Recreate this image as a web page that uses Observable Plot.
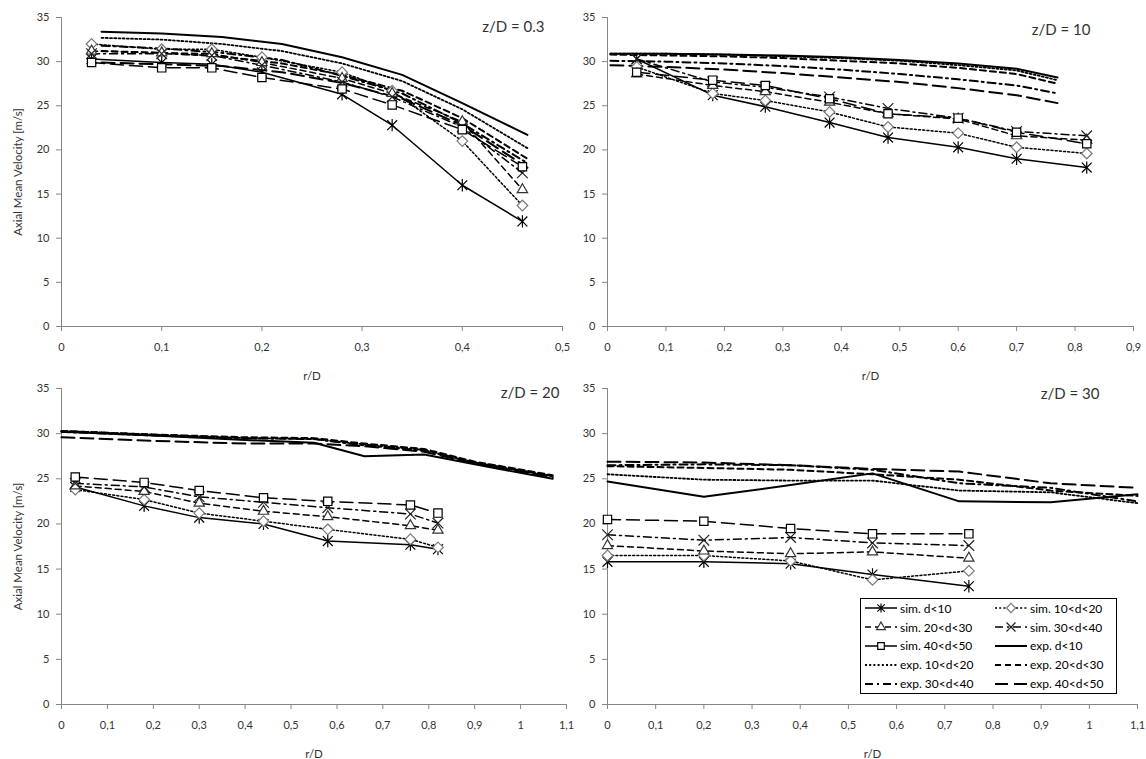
<!DOCTYPE html>
<html>
<head>
<meta charset="utf-8">
<script src="https://cdn.jsdelivr.net/npm/d3@7"></script>
<script src="https://cdn.jsdelivr.net/npm/@observablehq/plot@0.6"></script>
<style>
  body { margin: 0; background: #fff; }
  #wrap { position: relative; width: 1146px; height: 759px; font-family: Lato, "Open Sans", sans-serif; overflow: hidden; }
  #legend { position: absolute; left: 860px; top: 598px; width: 257px; height: 96px; box-sizing: border-box;
            border: 1px solid #000; background: #fff; font-size: 12px; color: #000;
            display: grid; grid-template-columns: 130px 125px; grid-auto-rows: 18.8px; padding: 0 0 0 3px; }
  #legend .item { display: flex; align-items: center; white-space: nowrap; }
  #legend svg { margin-right: 2px; flex: none; }
</style>
</head>
<body>
<div id="wrap"></div>
<script>
// ---------------- data ----------------
const simNames = ["sim. d<10", "sim. 10<d<20", "sim. 20<d<30", "sim. 30<d<40", "sim. 40<d<50"];
const expNames = ["exp. d<10", "exp. 10<d<20", "exp. 20<d<30", "exp. 30<d<40", "exp. 40<d<50"];
const yTicks = [0, 5, 10, 15, 20, 25, 30, 35];

// z/D = 0.3
const xTicksZ03 = [0, 0.1, 0.2, 0.3, 0.4, 0.5];
const simRZ03 = [0.03, 0.10, 0.15, 0.20, 0.28, 0.33, 0.40, 0.46];
const simZ03 = [
  [30.3, 29.9, 29.7, 28.8, 26.3, 22.8, 16.0, 11.9],
  [32.0, 31.4, 31.4, 30.5, 28.8, 26.7, 21.0, 13.7],
  [31.2, 31.0, 30.9, 29.9, 28.1, 26.4, 23.2, 15.5],
  [30.9, 30.9, 30.7, 29.6, 27.7, 26.0, 22.6, 17.4],
  [29.9, 29.3, 29.3, 28.2, 26.9, 25.1, 22.3, 18.1]
];
const expRZ03 = [0.04, 0.10, 0.16, 0.22, 0.28, 0.34, 0.40, 0.465];
const expZ03 = [
  [33.4, 33.2, 32.8, 32.0, 30.5, 28.5, 25.3, 21.7],
  [32.7, 32.5, 32.0, 31.2, 29.8, 27.8, 24.6, 20.2],
  [31.2, 31.0, 30.6, 29.8, 28.5, 26.7, 23.6, 19.0],
  [31.8, 31.5, 31.0, 30.2, 28.4, 26.4, 23.0, 18.5],
  [29.9, 29.7, 29.5, 28.8, 27.6, 25.8, 22.8, 18.0]
];

// z/D = 10
const xTicksZ10 = [0, 0.1, 0.2, 0.3, 0.4, 0.5, 0.6, 0.7, 0.8, 0.9];
const simRZ10 = [0.05, 0.18, 0.27, 0.38, 0.48, 0.60, 0.70, 0.82];
const simZ10 = [
  [30.3, 26.2, 24.9, 23.1, 21.4, 20.3, 19.0, 18.0],
  [29.4, 26.4, 25.6, 24.3, 22.6, 21.9, 20.3, 19.6],
  [28.6, 27.3, 26.6, 25.4, 24.1, 23.5, 21.6, 21.1],
  [30.3, 27.7, 27.1, 26.0, 24.7, 23.6, 22.1, 21.6],
  [28.8, 27.9, 27.3, 25.8, 24.1, 23.6, 22.0, 20.7]
];
const expRZ10 = [0.005, 0.1, 0.2, 0.3, 0.4, 0.5, 0.6, 0.7, 0.77];
const expZ10 = [
  [30.9, 30.9, 30.8, 30.7, 30.5, 30.2, 29.8, 29.2, 28.2],
  [30.9, 30.9, 30.8, 30.6, 30.4, 30.1, 29.6, 29.0, 27.9],
  [30.8, 30.7, 30.6, 30.4, 30.1, 29.8, 29.3, 28.6, 27.5],
  [30.1, 30.0, 29.8, 29.5, 29.1, 28.6, 28.0, 27.3, 26.4],
  [29.6, 29.4, 29.1, 28.7, 28.2, 27.7, 27.0, 26.2, 25.3]
];

// z/D = 20
const xTicksZ20 = [0, 0.1, 0.2, 0.3, 0.4, 0.5, 0.6, 0.7, 0.8, 0.9, 1, 1.1];
const simRZ20 = [0.03, 0.18, 0.30, 0.44, 0.58, 0.76, 0.82];
const simZ20 = [
  [24.1, 22.0, 20.7, 20.0, 18.1, 17.7, 17.2],
  [23.8, 22.7, 21.2, 20.3, 19.4, 18.3, 17.4],
  [24.2, 23.6, 22.3, 21.4, 20.8, 19.8, 19.3],
  [24.5, 24.1, 23.0, 22.4, 21.8, 21.1, 20.1],
  [25.2, 24.6, 23.7, 22.9, 22.5, 22.1, 21.2]
];
const expRZ20 = [0, 0.2, 0.4, 0.55, 0.66, 0.79, 0.9, 1.07];
const expZ20 = [
  [30.2, 29.8, 29.3, 29.0, 27.5, 27.7, 26.6, 25.0],
  [30.3, 29.9, 29.5, 29.4, 28.8, 28.2, 26.8, 25.3],
  [30.3, 29.9, 29.6, 29.5, 28.9, 28.3, 26.9, 25.4],
  [30.2, 29.8, 29.5, 29.4, 28.7, 28.1, 26.8, 25.3],
  [29.6, 29.2, 28.9, 28.9, 28.6, 28.0, 26.7, 25.2]
];

// z/D = 30
const xTicksZ30 = [0, 0.1, 0.2, 0.3, 0.4, 0.5, 0.6, 0.7, 0.8, 0.9, 1, 1.1];
const simRZ30 = [0, 0.2, 0.38, 0.55, 0.75];
const simZ30 = [
  [15.8, 15.8, 15.6, 14.4, 13.1],
  [16.5, 16.5, 15.9, 13.8, 14.8],
  [17.6, 17.0, 16.7, 16.9, 16.2],
  [18.8, 18.2, 18.5, 17.9, 17.6],
  [20.5, 20.3, 19.5, 18.9, 18.9]
];
const expRZ30 = [0, 0.2, 0.38, 0.55, 0.73, 0.92, 1.1];
const expZ30 = [
  [24.7, 23.0, 24.3, 25.6, 22.5, 22.4, 23.3],
  [25.5, 24.9, 24.8, 24.8, 23.7, 23.5, 22.3],
  [26.4, 26.2, 26.0, 25.5, 24.9, 23.7, 23.1],
  [26.5, 26.6, 26.5, 26.0, 24.5, 24.0, 22.5],
  [26.9, 26.8, 26.5, 26.1, 25.8, 24.5, 24.0]
];

// ---------------- styles ----------------
const axisGray = "#868686";
const starSymbol = {
  draw(ctx, size) {
    const r = Math.sqrt(size) * 0.62, d = r * 0.8;
    ctx.moveTo(0, -r); ctx.lineTo(0, r);
    ctx.moveTo(-d, -d); ctx.lineTo(d, d);
    ctx.moveTo(-d, d); ctx.lineTo(d, -d);
  }
};
const DOT = "2,2.2", DASH = "6,4", DASHDOT = "8,4,2,4", LONG = "13,6";
const simStyle = [
  {dash: undefined, symbol: starSymbol, fill: "none", stroke: "#000", r: 5.6},
  {dash: DOT, symbol: d3.symbolDiamond2, fill: "#fff", stroke: "#7a7a7a", r: 4.8},
  {dash: DASH, symbol: d3.symbolTriangle2, fill: "#fff", stroke: "#333", r: 4.9},
  {dash: DASHDOT, symbol: d3.symbolTimes, fill: "none", stroke: "#222", r: 4.9},
  {dash: LONG, symbol: d3.symbolSquare2, fill: "#fff", stroke: "#000", r: 5.3}
];
const expStyle = [
  {dash: undefined, w: 2},
  {dash: DOT, w: 1.8},
  {dash: DASH, w: 2},
  {dash: DASHDOT, w: 2},
  {dash: LONG, w: 2}
];
const fmt = d => String(d).replace(".", ",");

const wrap = document.getElementById("wrap");

function panel(cfg) {
  const {simR, sim, expR, exp, xTicks, title, yTitle, left, top, width, height, m, tx, ty} = cfg;
  const xMax = xTicks[xTicks.length - 1];
  const marks = [
    Plot.axisY({ticks: yTicks, tickSize: 5, tickPadding: 7, stroke: axisGray, fill: "#333", label: null}),
    Plot.axisX({ticks: xTicks, tickSize: 5, tickPadding: 12, tickFormat: fmt, stroke: axisGray, fill: "#333", label: null}),
    Plot.ruleY([0], {stroke: axisGray}),
    Plot.ruleX([0], {stroke: axisGray})
  ];
  exp.forEach((vals, i) => {
    const rows = expR.map((r, j) => ({r, v: vals[j]}));
    marks.push(Plot.line(rows, {x: "r", y: "v", stroke: "#000", strokeWidth: expStyle[i].w,
      strokeDasharray: expStyle[i].dash, strokeLinejoin: "round"}));
  });
  sim.forEach((vals, i) => {
    const rows = simR.map((r, j) => ({r, v: vals[j]}));
    marks.push(Plot.line(rows, {x: "r", y: "v", stroke: "#000", strokeWidth: 1.5,
      strokeDasharray: simStyle[i].dash}));
  });
  sim.forEach((vals, i) => {
    const rows = simR.map((r, j) => ({r, v: vals[j]}));
    const s = simStyle[i];
    marks.push(Plot.dot(rows, {x: "r", y: "v", symbol: s.symbol, r: s.r, fill: s.fill, stroke: s.stroke, strokeWidth: 1.2}));
  });
  marks.push(Plot.text([title], {text: d => d, frameAnchor: "top-right", dx: tx, dy: ty,
    textAnchor: "end", lineAnchor: "middle", fontSize: 15, fill: "#333"}));
  marks.push(Plot.text(["r/D"], {text: d => d, frameAnchor: "bottom", dy: 50,
    lineAnchor: "middle", fontSize: 11.5, fill: "#333"}));
  if (yTitle) {
    marks.push(Plot.text([yTitle], {text: d => d, frameAnchor: "left", dx: -43, rotate: -90,
      textAnchor: "middle", lineAnchor: "middle", fontSize: 11.5, fill: "#333"}));
  }
  const chart = Plot.plot({
    width, height,
    marginLeft: m[0], marginRight: m[1], marginTop: m[2], marginBottom: m[3],
    x: {domain: [0, xMax], label: null},
    y: {domain: [0, 35], label: null},
    style: {fontFamily: "Lato, 'Open Sans', sans-serif", fontSize: "11px", color: "#333", background: "transparent", overflow: "visible"},
    marks
  });
  chart.style.position = "absolute";
  chart.style.left = left + "px";
  chart.style.top = top + "px";
  wrap.appendChild(chart);
}

const yTitleText = "Axial Mean Velocity [m/s]";
panel({simR: simRZ03, sim: simZ03, expR: expRZ03, exp: expZ03, xTicks: xTicksZ03, title: "z/D = 0.3",
  yTitle: yTitleText, left: 0, top: 0, width: 573, height: 385, m: [61, 11, 17, 59], tx: -18, ty: 10});
panel({simR: simRZ10, sim: simZ10, expR: expRZ10, exp: expZ10, xTicks: xTicksZ10, title: "z/D = 10",
  yTitle: null, left: 573, top: 0, width: 573, height: 385, m: [34, 13, 17, 59], tx: -43, ty: 13});
panel({simR: simRZ20, sim: simZ20, expR: expRZ20, exp: expZ20, xTicks: xTicksZ20, title: "z/D = 20",
  yTitle: yTitleText, left: 0, top: 370, width: 573, height: 389, m: [61, 7, 18, 55], tx: -7, ty: 5});
panel({simR: simRZ30, sim: simZ30, expR: expRZ30, exp: expZ30, xTicks: xTicksZ30, title: "z/D = 30",
  yTitle: null, left: 573, top: 370, width: 573, height: 389, m: [34, 9, 18, 55], tx: -38, ty: 6});

// ---------------- legend ----------------
function swatch(line, sym) {
  const svg = d3.create("svg").attr("width", 34).attr("height", 12);
  svg.append("line").attr("x1", 1).attr("x2", 33).attr("y1", 6).attr("y2", 6)
    .attr("stroke", "#000").attr("stroke-width", line.w).attr("stroke-dasharray", line.dash || null);
  if (sym) {
    svg.append("path").attr("transform", "translate(17,6)")
      .attr("d", d3.symbol(sym.symbol, 55)())
      .attr("fill", sym.fill).attr("stroke", sym.stroke).attr("stroke-width", 1.2);
  }
  return svg.node();
}
const legend = document.createElement("div");
legend.id = "legend";
const entries = [];
simNames.forEach((n, i) => entries.push({name: n, line: {w: 1.5, dash: simStyle[i].dash}, sym: simStyle[i]}));
expNames.forEach((n, i) => entries.push({name: n, line: expStyle[i], sym: null}));
entries.forEach(e => {
  const item = document.createElement("div");
  item.className = "item";
  item.appendChild(swatch(e.line, e.sym));
  const span = document.createElement("span");
  span.textContent = e.name;
  item.appendChild(span);
  legend.appendChild(item);
});
wrap.appendChild(legend);
</script>
</body>
</html>
